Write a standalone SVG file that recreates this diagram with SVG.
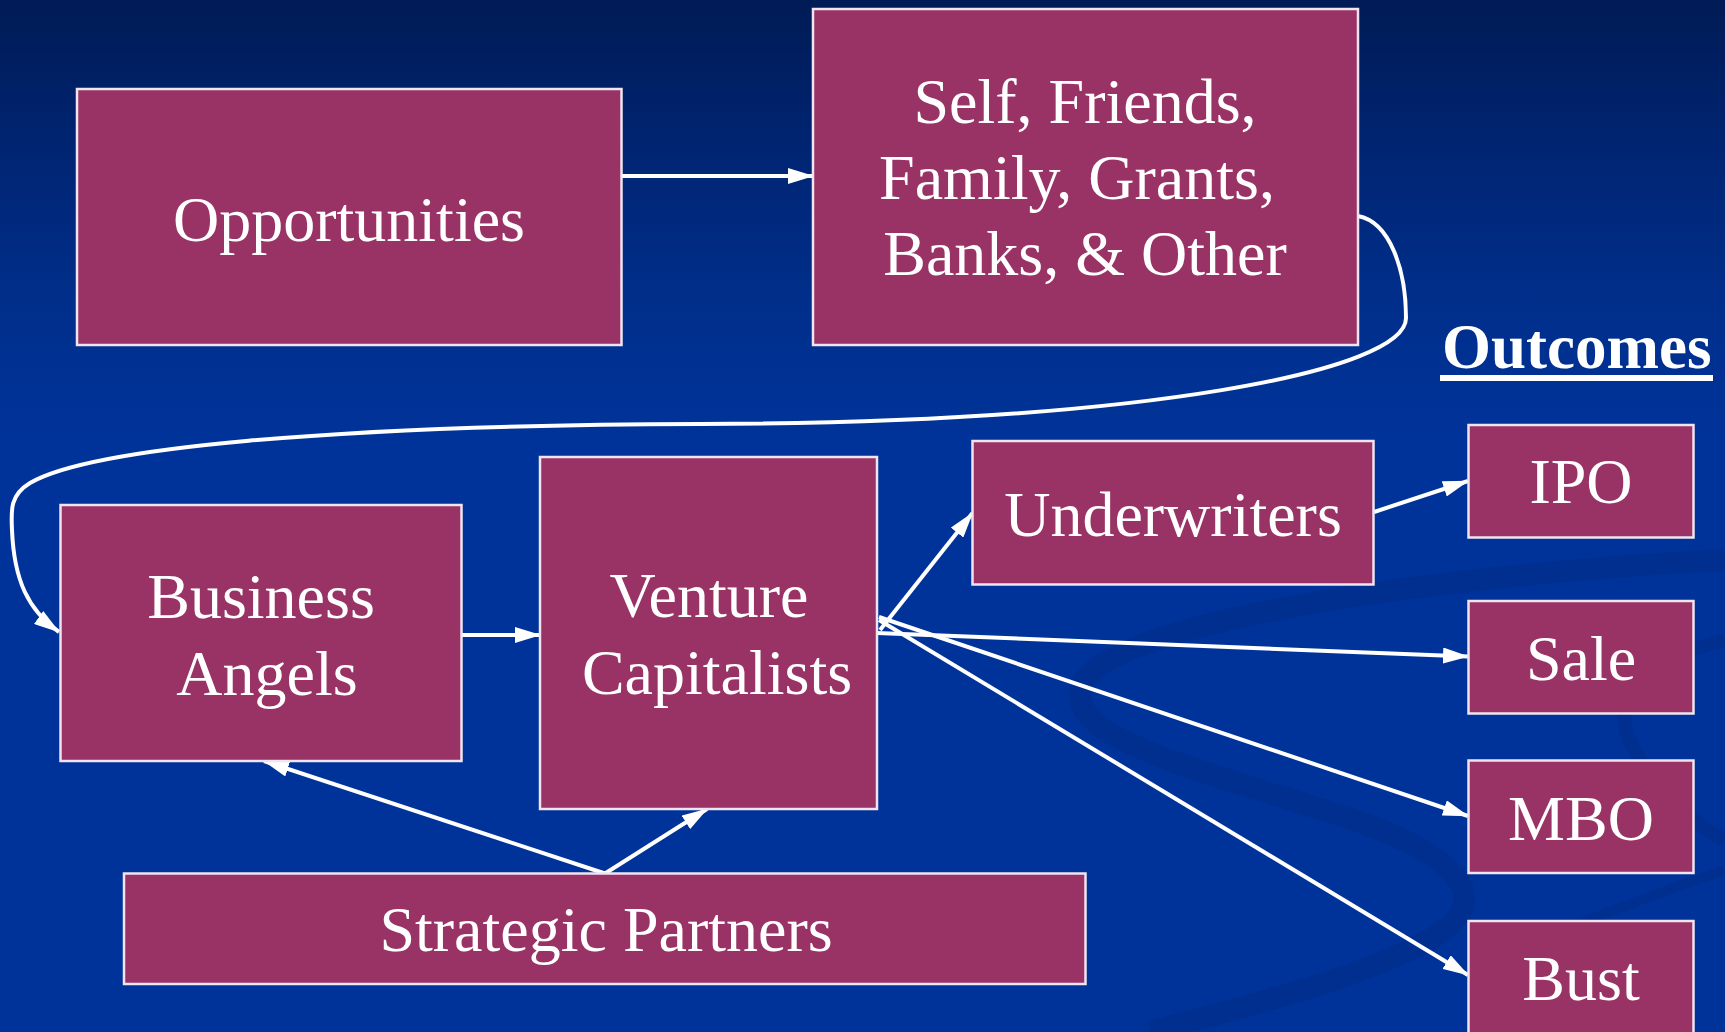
<svg xmlns="http://www.w3.org/2000/svg" width="1725" height="1032" viewBox="0 0 1725 1032">
  <defs>
    <linearGradient id="bg" x1="0" y1="0" x2="0" y2="1">
      <stop offset="0" stop-color="#001b55"/>
      <stop offset="0.12" stop-color="#00236e"/>
      <stop offset="0.3" stop-color="#002f8c"/>
      <stop offset="0.42" stop-color="#003399"/>
      <stop offset="1" stop-color="#003399"/>
    </linearGradient>
    <marker id="arrow" viewBox="0 0 26 16" refX="25" refY="8" markerWidth="26" markerHeight="16" markerUnits="userSpaceOnUse" orient="auto">
      <path d="M0,0 L26,8 L0,16 Z" fill="#ffffff"/>
    </marker>
    <style>
      .box { fill: #993366; stroke: #efe4ef; stroke-width: 2.5; }
      .label { font-family: "Liberation Serif", "Times New Roman", serif; font-size: 64px; fill: #ffffff; text-anchor: middle; }
      .edge { fill: none; stroke: #ffffff; stroke-width: 4; marker-end: url(#arrow); }
      .swirl { fill: none; stroke: #00287e; stroke-opacity: 0.3; }
    </style>
  </defs>

  <!-- background -->
  <rect x="0" y="0" width="1725" height="1032" fill="url(#bg)"/>
  <g id="swirl">
    <path class="swirl" stroke-width="22" d="M1725,560 C1480,572 1130,615 1085,680 C1050,735 1200,770 1340,815 C1470,858 1500,905 1420,945 C1340,985 1230,1010 1150,1032"/>
    <path class="swirl" stroke-width="10" d="M1725,870 C1620,905 1560,935 1470,960"/>
    <path class="swirl" stroke-width="14" d="M1725,640 C1640,660 1600,700 1640,760 C1680,820 1725,840 1725,840"/>
  </g>

  <!-- connectors -->
  <g id="connectors">
    <path class="edge" d="M621.5,176 L813,176"/>
    <path class="edge" d="M1358,216 C1390,222 1406,270 1406,318 C1406,370 1150,423 700,424 C330,425 90,448 30,483 C10,495 11,510 12,530 C14,580 28,610 59,632"/>
    <path class="edge" d="M461,635 L540,635"/>
    <path class="edge" d="M880,630 L972.5,513"/>
    <path class="edge" d="M1374,512 L1468,481"/>
    <path class="edge" d="M877,633 L1468,656.5"/>
    <path class="edge" d="M879,617 L1468,816"/>
    <path class="edge" d="M879,620 L1468,975"/>
    <path class="edge" d="M605,873.5 L264,761"/>
    <path class="edge" d="M605,873.5 L707,809"/>
  </g>

  <!-- nodes -->
  <g id="opportunities">
    <rect class="box" x="77" y="89" width="544.5" height="256"/>
    <text class="label" x="349" y="241">Opportunities</text>
  </g>
  <g id="self-friends-family">
    <rect class="box" x="813" y="9" width="545" height="336"/>
    <text class="label" x="1085" y="123">Self, Friends,</text>
    <text class="label" x="1077" y="199">Family, Grants,</text>
    <text class="label" x="1085" y="275">Banks, &amp; Other</text>
  </g>
  <g id="business-angels">
    <rect class="box" x="60.5" y="505" width="401" height="256"/>
    <text class="label" x="261" y="618">Business</text>
    <text class="label" x="267" y="695">Angels</text>
  </g>
  <g id="venture-capitalists">
    <rect class="box" x="540" y="457" width="337" height="352"/>
    <text class="label" x="709" y="617">Venture</text>
    <text class="label" x="717" y="694">Capitalists</text>
  </g>
  <g id="underwriters">
    <rect class="box" x="972.5" y="441" width="401" height="143.5"/>
    <text class="label" x="1173" y="536">Underwriters</text>
  </g>
  <g id="strategic-partners">
    <rect class="box" x="124" y="873.5" width="961.5" height="110.5"/>
    <text class="label" x="606" y="951">Strategic Partners</text>
  </g>

  <!-- outcomes column -->
  <g id="outcomes-title">
    <text x="1442" y="368" font-family="Liberation Serif, Times New Roman, serif" font-size="63" font-weight="bold" fill="#ffffff">Outcomes</text>
    <rect x="1440" y="375" width="273" height="6" fill="#ffffff"/>
  </g>
  <g id="ipo">
    <rect class="box" x="1468.5" y="425" width="225" height="112.5"/>
    <text class="label" x="1581" y="503">IPO</text>
  </g>
  <g id="sale">
    <rect class="box" x="1468.5" y="601" width="225" height="112.5"/>
    <text class="label" x="1581" y="680">Sale</text>
  </g>
  <g id="mbo">
    <rect class="box" x="1468.5" y="760.5" width="225" height="112.5"/>
    <text class="label" x="1581" y="840">MBO</text>
  </g>
  <g id="bust">
    <rect class="box" x="1468.5" y="921" width="225" height="125"/>
    <text class="label" x="1581" y="1000">Bust</text>
  </g>
</svg>
